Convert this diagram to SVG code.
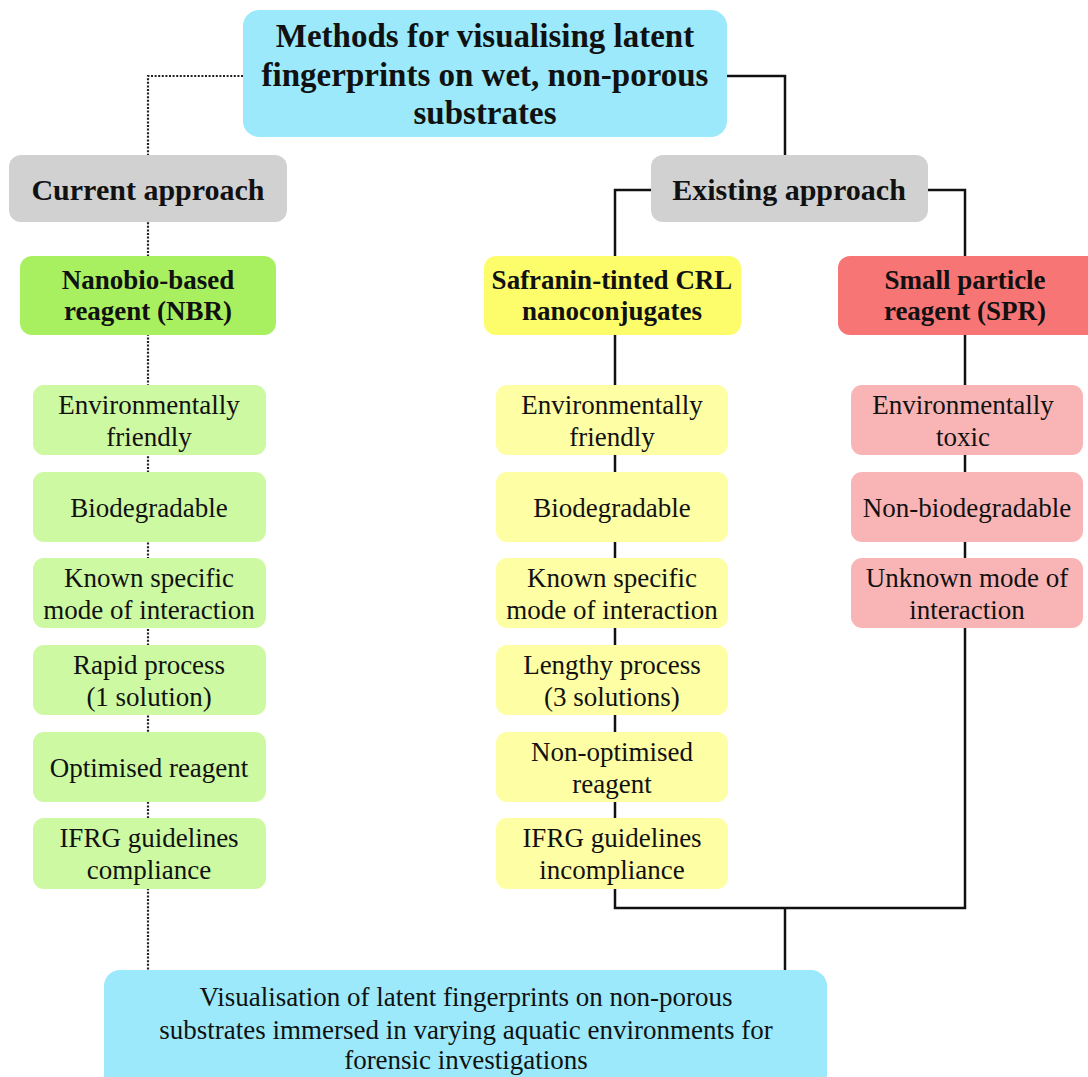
<svg xmlns="http://www.w3.org/2000/svg" width="1088" height="1077" viewBox="0 0 1088 1077">
<style>
text{font-family:"Liberation Serif","Times New Roman",serif;fill:#111;text-anchor:middle}
.b{font-weight:bold}
.t{font-size:33px}
.a{font-size:30px}
.h{font-size:27px}
.i{font-size:27px}
.f{font-size:27px}
.dot{fill:none;stroke:#222;stroke-width:2.2;stroke-dasharray:2 1.6}
.sol{fill:none;stroke:#111;stroke-width:2.5}
.blue{fill:#9be9fb}.gray{fill:#d1d1d1}
.g1{fill:#a8f060}.g2{fill:#cdf9a3}
.y1{fill:#fdfd6c}.y2{fill:#fefea5}
.r1{fill:#f87575}.r2{fill:#f9b5b5}
</style>
<rect width="1088" height="1077" fill="#fff"/>
<g id="connectors">
<path class="dot" d="M243,76 H148 V970"/>
<path class="sol" d="M727,76 H785 V155"/>
<path class="sol" d="M651,190 H615 V908 H965 V190 H928"/>
<path class="sol" d="M785,908 V970"/>
</g>
<g id="title"><rect class="blue" x="243" y="10" width="484" height="127" rx="16"/>
<text class="b t" x="485" y="47">Methods for visualising latent</text>
<text class="b t" x="485" y="86">fingerprints on wet, non-porous</text>
<text class="b t" x="485" y="124">substrates</text></g>
<g id="current"><rect class="gray" x="9" y="155" width="278" height="67" rx="12"/>
<text class="b a" x="148" y="200">Current approach</text></g>
<g id="existing"><rect class="gray" x="651" y="155" width="277" height="67" rx="12"/>
<text class="b a" x="789" y="200">Existing approach</text></g>
<g id="nbr"><rect class="g1" x="20" y="256" width="256" height="79" rx="12"/>
<text class="b h" x="148" y="289">Nanobio-based</text><text class="b h" x="148" y="320">reagent (NBR)</text></g>
<g id="crl"><rect class="y1" x="484" y="256" width="257" height="79" rx="12"/>
<text class="b h" x="612" y="289">Safranin-tinted CRL</text><text class="b h" x="612" y="320">nanoconjugates</text></g>
<g id="spr"><rect class="r1" x="838" y="256" width="262" height="79" rx="12"/>
<text class="b h" x="965" y="289">Small particle</text><text class="b h" x="965" y="320">reagent (SPR)</text></g>

<g id="n1"><rect class="g2" x="33" y="385" width="233" height="70" rx="11"/><text class="i" x="149" y="414">Environmentally</text><text class="i" x="149" y="446">friendly</text></g>
<g id="n2"><rect class="g2" x="33" y="472" width="233" height="70" rx="11"/><text class="i" x="149" y="517">Biodegradable</text></g>
<g id="n3"><rect class="g2" x="33" y="558" width="233" height="70" rx="11"/><text class="i" x="149" y="587">Known specific</text><text class="i" x="149" y="619">mode of interaction</text></g>
<g id="n4"><rect class="g2" x="33" y="645" width="233" height="70" rx="11"/><text class="i" x="149" y="674">Rapid process</text><text class="i" x="149" y="706">(1 solution)</text></g>
<g id="n5"><rect class="g2" x="33" y="732" width="233" height="70" rx="11"/><text class="i" x="149" y="777">Optimised reagent</text></g>
<g id="n6"><rect class="g2" x="33" y="818" width="233" height="71" rx="11"/><text class="i" x="149" y="847">IFRG guidelines</text><text class="i" x="149" y="879">compliance</text></g>

<g id="c1"><rect class="y2" x="496" y="385" width="232" height="70" rx="11"/><text class="i" x="612" y="414">Environmentally</text><text class="i" x="612" y="446">friendly</text></g>
<g id="c2"><rect class="y2" x="496" y="472" width="232" height="70" rx="11"/><text class="i" x="612" y="517">Biodegradable</text></g>
<g id="c3"><rect class="y2" x="496" y="558" width="232" height="70" rx="11"/><text class="i" x="612" y="587">Known specific</text><text class="i" x="612" y="619">mode of interaction</text></g>
<g id="c4"><rect class="y2" x="496" y="645" width="232" height="70" rx="11"/><text class="i" x="612" y="674">Lengthy process</text><text class="i" x="612" y="706">(3 solutions)</text></g>
<g id="c5"><rect class="y2" x="496" y="732" width="232" height="70" rx="11"/><text class="i" x="612" y="761">Non-optimised</text><text class="i" x="612" y="793">reagent</text></g>
<g id="c6"><rect class="y2" x="496" y="818" width="232" height="71" rx="11"/><text class="i" x="612" y="847">IFRG guidelines</text><text class="i" x="612" y="879">incompliance</text></g>

<g id="s1"><rect class="r2" x="851" y="385" width="232" height="70" rx="11"/><text class="i" x="963" y="414">Environmentally</text><text class="i" x="963" y="446">toxic</text></g>
<g id="s2"><rect class="r2" x="851" y="472" width="232" height="70" rx="11"/><text class="i" x="967" y="517">Non-biodegradable</text></g>
<g id="s3"><rect class="r2" x="851" y="558" width="232" height="70" rx="11"/><text class="i" x="967" y="587">Unknown mode of</text><text class="i" x="967" y="619">interaction</text></g>

<g id="outcome"><rect class="blue" x="104" y="970" width="723" height="120" rx="16"/>
<text class="f" x="466" y="1006">Visualisation of latent fingerprints on non-porous</text>
<text class="f" x="466" y="1039">substrates immersed in varying aquatic environments for</text>
<text class="f" x="466" y="1069">forensic investigations</text></g>
</svg>
